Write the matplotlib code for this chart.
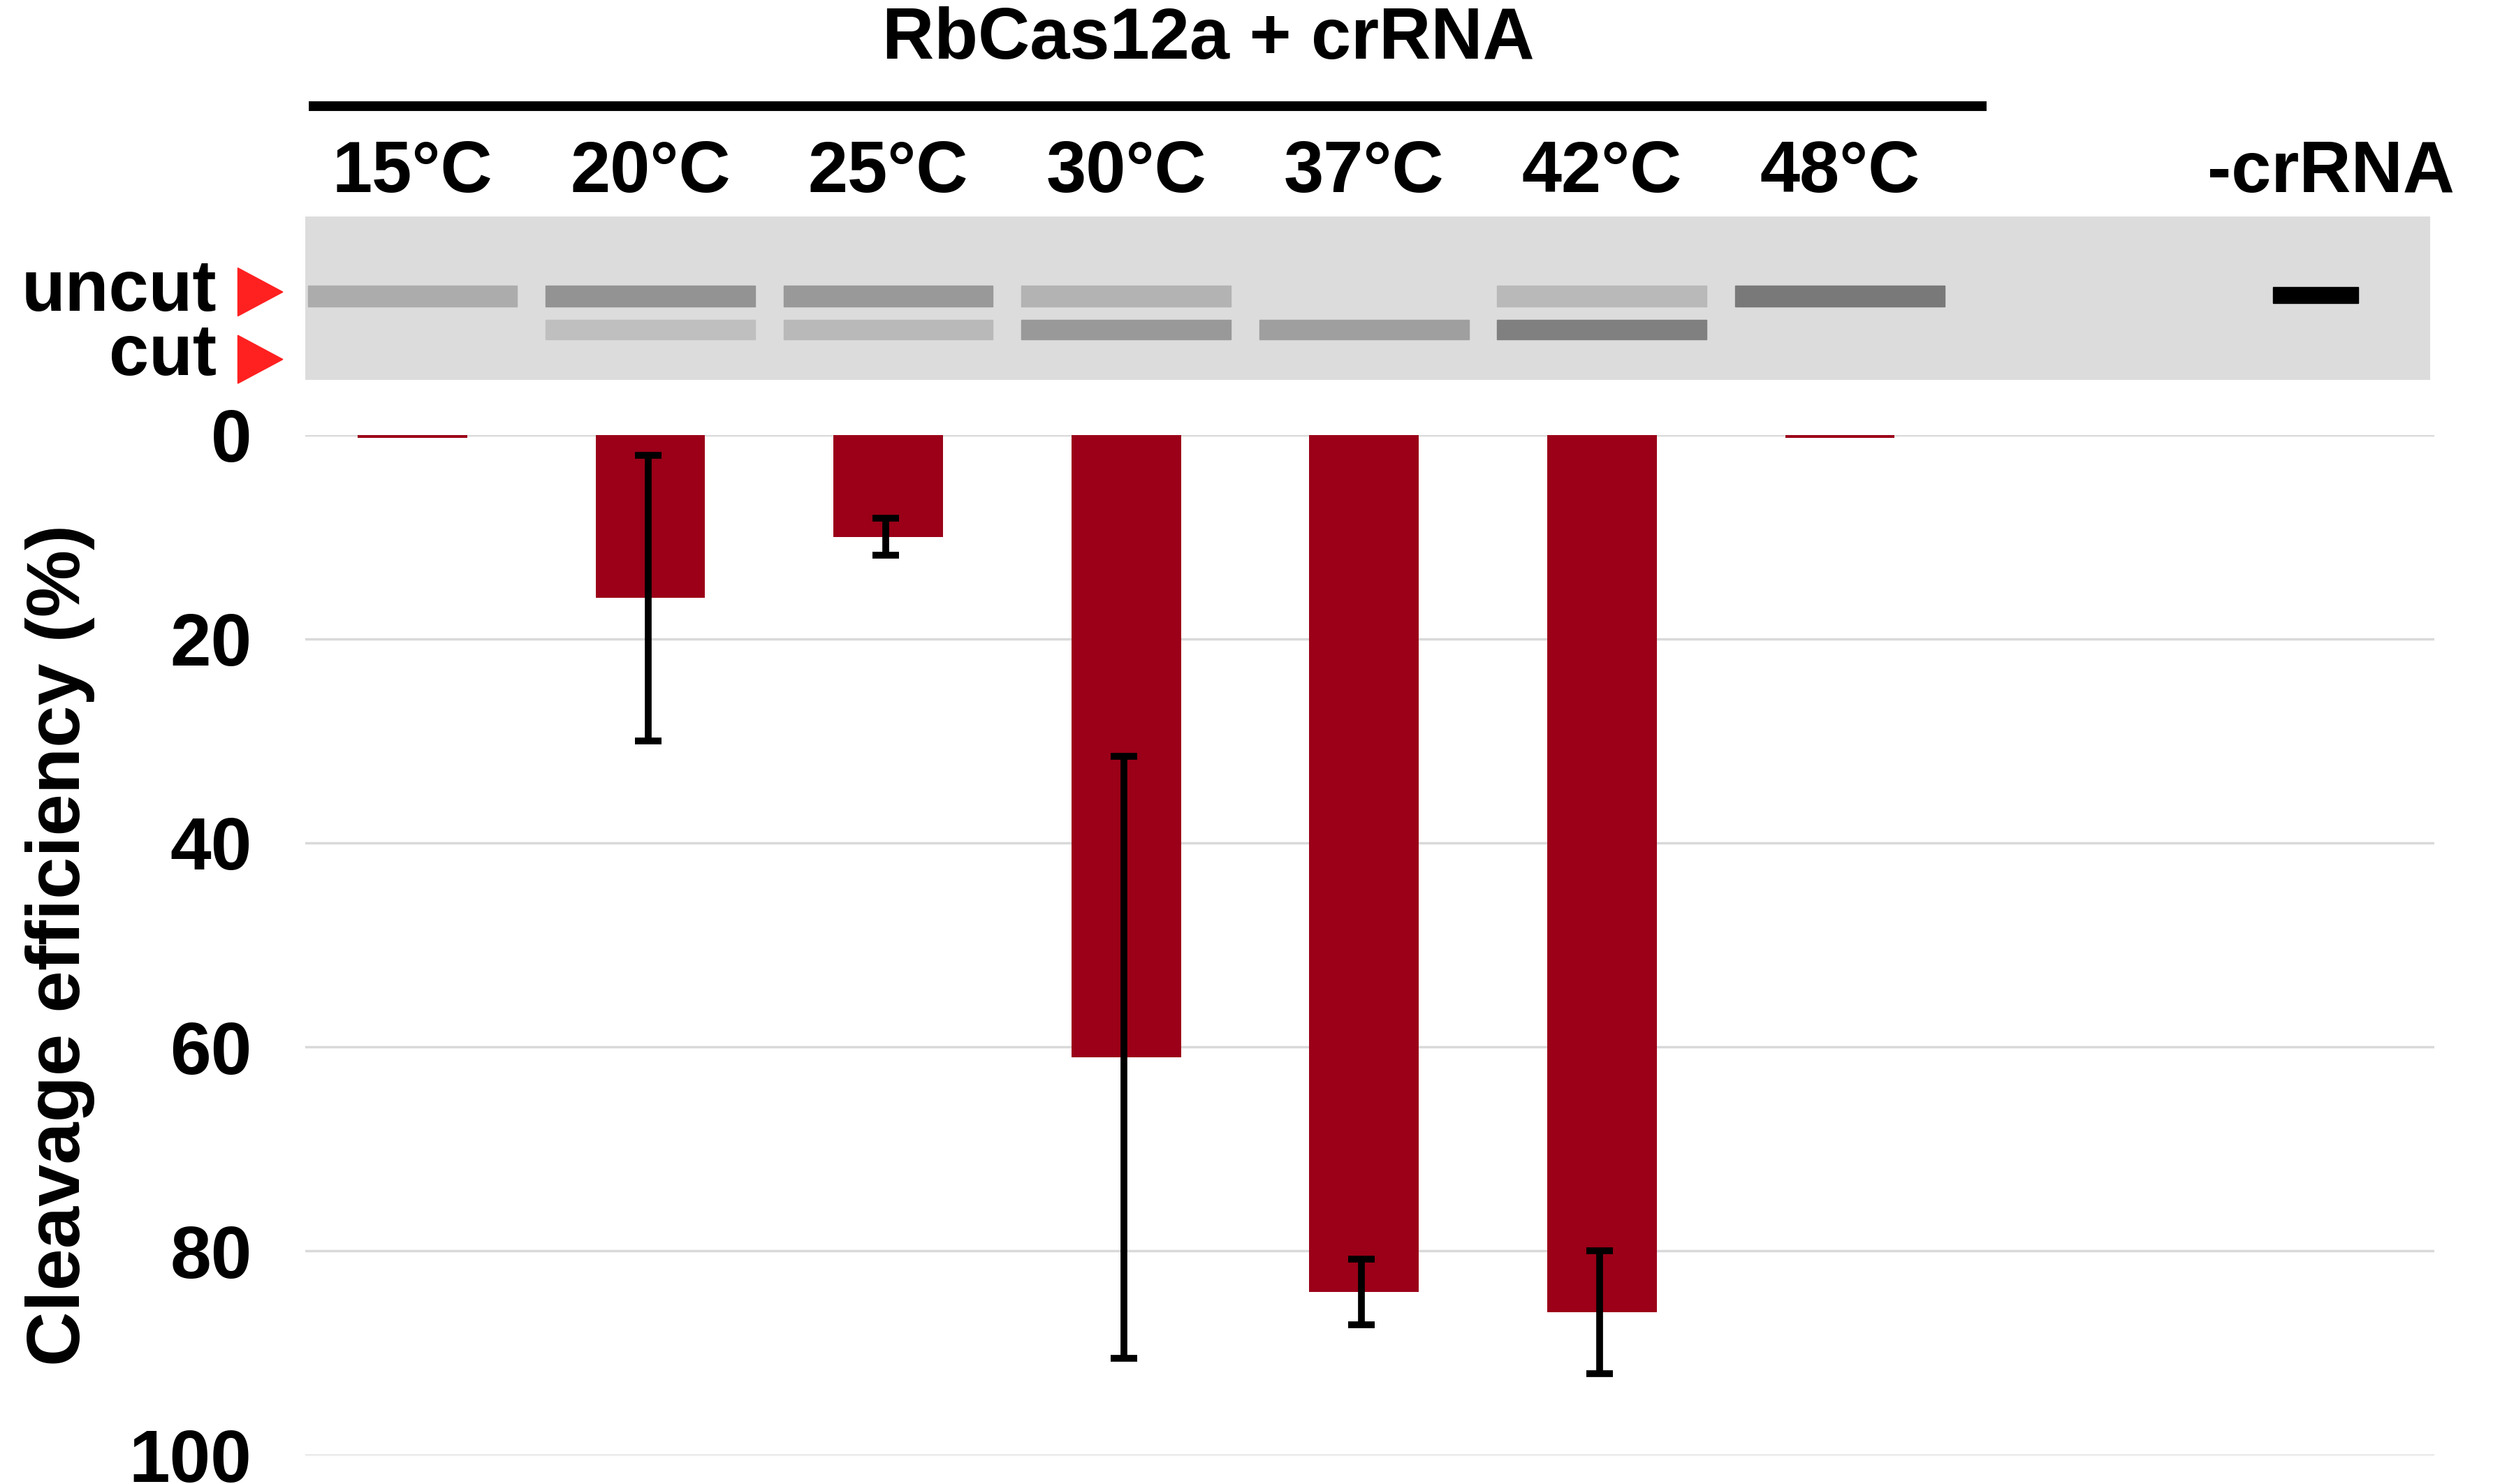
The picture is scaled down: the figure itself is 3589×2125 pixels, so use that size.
import matplotlib
matplotlib.use("Agg")
import matplotlib.pyplot as plt
from matplotlib.patches import Rectangle, Polygon

plt.rcParams['font.family'] = ['Liberation Sans', 'DejaVu Sans']
plt.rcParams['font.weight'] = 'bold'

labels = ["15°C", "20°C", "25°C", "30°C", "37°C", "42°C", "48°C", "", "-crRNA"]
values = [0.3, 16, 10, 61, 84, 86, 0.3, 0, 0]
errors = [0, 14, 1.8, 29.5, 3.2, 6, 0, 0, 0]
yticks = [0, 20, 40, 60, 80, 100]
# gel band intensities (uncut, cut) per lane, 0..1 darkness
uncut_band = [0.35, 0.55, 0.5, 0.3, 0.0, 0.25, 0.75, 0, 1.0]
cut_band = [0.0, 0.2, 0.25, 0.5, 0.45, 0.7, 0.0, 0, 0.0]

W, H = 3589, 2125
fig = plt.figure(figsize=(W/100, H/100), dpi=100)

def fx(px): return px/1560
def fy(py): return 1 - py/925

XL, XR = -0.45, 8.5
ax = fig.add_axes([fx(190), fy(907), fx(1515)-fx(190), fy(271)-fy(907)])
x = list(range(len(labels)))
ax.bar(x, values, width=0.46, color='#9b0018', zorder=3)
for i in x:
    if errors[i] > 0:
        ax.errorbar(i - 0.01, values[i], yerr=errors[i], color='black', lw=7, capsize=14, capthick=7, zorder=4)
ax.set_xlim(XL, XR)
ax.set_ylim(100, 0)
ax.set_yticks(yticks)
ax.set_yticklabels([str(t) for t in yticks], fontsize=76, fontweight='bold')
ax.tick_params(axis='y', length=0, pad=55)
ax.set_xticks([])
for s in ax.spines.values():
    s.set_visible(False)
ax.grid(axis='y', color='#d9d9d9', lw=2.5, zorder=0)
ax.set_ylabel("Cleavage efficiency (%)", fontsize=78, fontweight='bold', labelpad=35)

# gel
gax = fig.add_axes([fx(190), fy(237), fx(1512)-fx(190), fy(135)-fy(237)])
gax.set_xlim(XL, XR - 0.02)
gax.set_ylim(0, 1)
gax.axis('off')
gax.add_patch(Rectangle((XL, 0), XR - XL, 1, color='#dcdcdc'))
for i in x:
    if i == 8:
        gax.add_patch(Rectangle((i - 0.18, 0.47), 0.36, 0.1, color='black'))
        continue
    if uncut_band[i] > 0:
        g = 0.85 - 0.5*uncut_band[i]
        gax.add_patch(Rectangle((i - 0.44, 0.45), 0.88, 0.13, color=(g, g, g)))
    if cut_band[i] > 0:
        g = 0.85 - 0.5*cut_band[i]
        gax.add_patch(Rectangle((i - 0.44, 0.25), 0.88, 0.12, color=(g, g, g)))

# top labels
for i, lab in enumerate(labels):
    if lab:
        xf = fx(190) + (i - XL)/(XR - XL)*(fx(1515)-fx(190))
        fig.text(xf + (0.006 if i == 8 else 0), fy(108), lab, ha='center', va='center', fontsize=74, fontweight='bold')
fig.add_artist(plt.Line2D([fx(195), fx(1233)], [fy(66), fy(66)], color='black', lw=10))
fig.text(fx(752), fy(25), "RbCas12a + crRNA", ha='center', va='center', fontsize=74, fontweight='bold')

fig.text(fx(135), fy(182), "uncut", ha='right', va='center', fontsize=74, fontweight='bold')
fig.text(fx(135), fy(222), "cut", ha='right', va='center', fontsize=74, fontweight='bold')
for yy in (182, 224):
    fig.add_artist(Polygon([[fx(148), fy(yy-15)], [fx(148), fy(yy+15)], [fx(176), fy(yy)]],
                           closed=True, color='#ff2020', transform=fig.transFigure))

fig.savefig("out.png", dpi=100)
